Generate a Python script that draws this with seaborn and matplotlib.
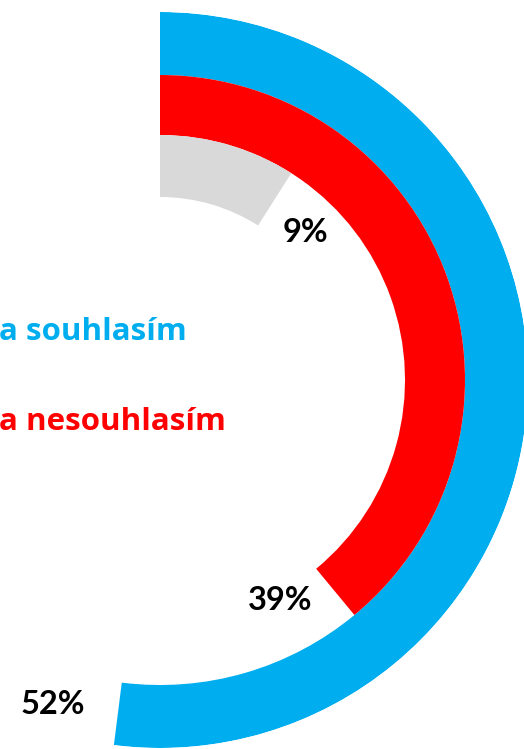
import numpy as np
import seaborn as sns
import matplotlib.pyplot as plt

# data
categories = ["souhlasím", "nesouhlasím", "neví"]
values = [52, 39, 9]
value_labels = ["52%", "39%", "9%"]
colors = ["#00AEEF", "#FF0000", "#D9D9D9"]
legend_texts = ["a souhlasím", "a nesouhlasím"]

W, H = 524, 749
CX, CY = 160, 380          # ring centre in pixels (from top-left)
R_MAX = 368
ring_inner = [305, 245, 183]
ring_outer = [368, 305, 245]


def main():
    sns.set_theme(style="white")
    plt.rcParams["font.family"] = ["Open Sans", "DejaVu Sans"]

    fig = plt.figure(figsize=(W / 100, H / 100), dpi=100)
    fig.patch.set_facecolor("white")

    rect = [(CX - R_MAX) / W, (H - CY - R_MAX) / H, 2 * R_MAX / W, 2 * R_MAX / H]
    ax = fig.add_axes(rect, projection="polar")
    ax.set_theta_zero_location("N")
    ax.set_theta_direction(-1)
    ax.set_ylim(0, R_MAX)

    for val, col, r0, r1 in zip(values, colors, ring_inner, ring_outer):
        ax.bar(0, r1 - r0, width=val / 100 * 2 * np.pi, bottom=r0,
               align="edge", color=col, edgecolor="none", linewidth=0)

    ax.set_axis_off()

    # percent labels
    label_pos = [(53, 705), (280, 600), (305, 233)]
    for txt, (x, y) in zip(value_labels, label_pos):
        fig.text(x / W, 1 - y / H, txt, ha="center", va="center",
                 fontsize=23.5, fontweight="bold", color="black",
                 family=["Lato", "DejaVu Sans"])

    # cropped legend texts
    fig.text(-1 / W, 1 - 332 / H, legend_texts[0], ha="left", va="center",
             fontsize=22.5, fontweight="bold", color=colors[0])
    fig.text(-1 / W, 1 - 422 / H, legend_texts[1], ha="left", va="center",
             fontsize=22.5, fontweight="bold", color=colors[1])

    fig.savefig("out.png", dpi=100)


if __name__ == "__main__":
    main()
